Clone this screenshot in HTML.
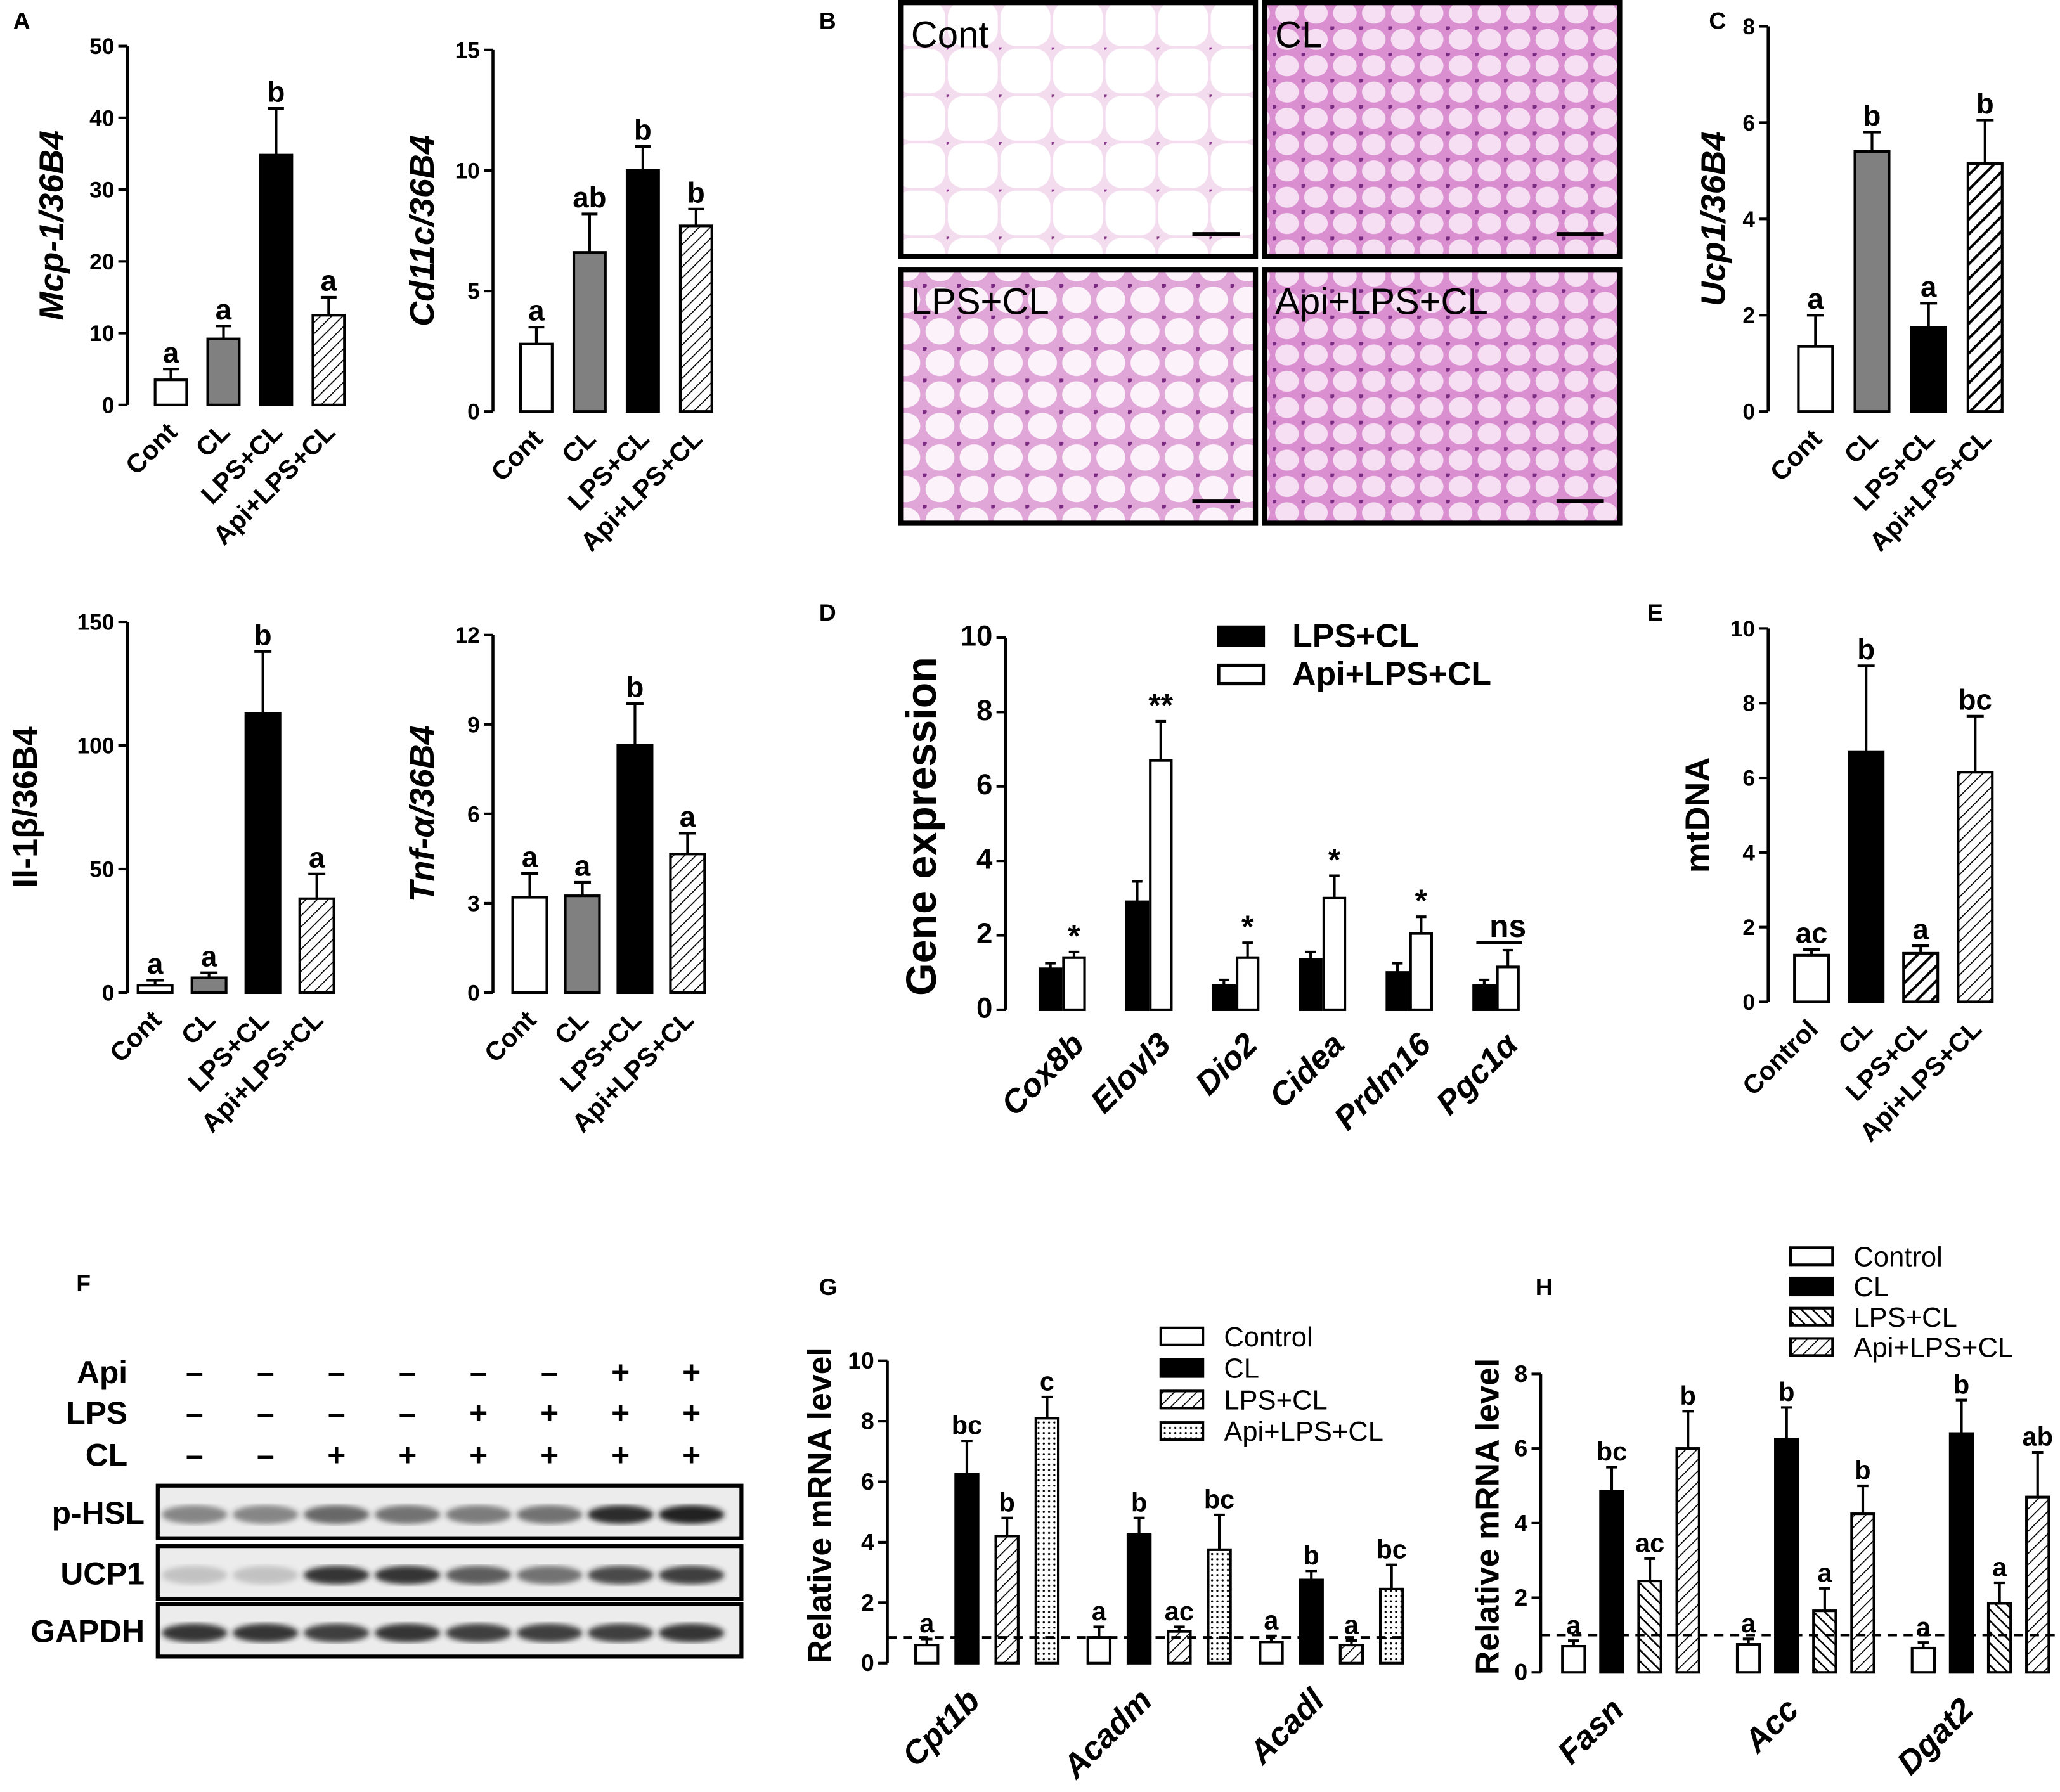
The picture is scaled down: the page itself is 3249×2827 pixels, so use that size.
<!DOCTYPE html>
<html><head><meta charset="utf-8"><style>
html,body{margin:0;padding:0;background:#fff}
svg{display:block;font-family:"Liberation Sans",sans-serif}
</style></head><body>
<svg id="fig" xmlns="http://www.w3.org/2000/svg" width="3249" height="2827" viewBox="0 0 1567 1363" preserveAspectRatio="none">
<defs>
<pattern id="hatch" patternUnits="userSpaceOnUse" width="6" height="6" patternTransform="rotate(45)"><rect width="6" height="6" fill="#fff"/><line x1="0" y1="0" x2="0" y2="6" stroke="#000" stroke-width="1.6"/></pattern>
<pattern id="hatchThick" patternUnits="userSpaceOnUse" width="8" height="8" patternTransform="rotate(45)"><rect width="8" height="8" fill="#fff"/><line x1="0" y1="0" x2="0" y2="8" stroke="#000" stroke-width="4"/></pattern>
<pattern id="hatchRev" patternUnits="userSpaceOnUse" width="6" height="6" patternTransform="rotate(-45)"><rect width="6" height="6" fill="#fff"/><line x1="0" y1="0" x2="0" y2="6" stroke="#000" stroke-width="2.5"/></pattern>
<pattern id="dots" patternUnits="userSpaceOnUse" width="4" height="4"><rect width="4" height="4" fill="#fff"/><circle cx="2" cy="2" r="0.8" fill="#000"/></pattern>
<pattern id="cellsW" patternUnits="userSpaceOnUse" width="40" height="36"><rect width="40" height="36" fill="#f4dcef"/><rect x="1" y="1" width="38" height="34" rx="12" fill="#fff"/><circle cx="0" cy="0" r="2" fill="#8a3a8a"/></pattern>
<pattern id="cellsP" patternUnits="userSpaceOnUse" width="22" height="20"><rect width="22" height="20" fill="#d98fd0"/><ellipse cx="11" cy="10" rx="9" ry="8" fill="#f6dff2"/><circle cx="1" cy="1" r="2" fill="#7a2a80"/></pattern>
<pattern id="cellsM" patternUnits="userSpaceOnUse" width="26" height="24"><rect width="26" height="24" fill="#e0a6d8"/><ellipse cx="13" cy="12" rx="11" ry="10" fill="#fcf2fa"/><circle cx="1" cy="1" r="2" fill="#7a2a80"/></pattern>
<filter id="blur"><feGaussianBlur stdDeviation="2"/></filter>
</defs>
</svg>
<script>
// ---- data ----
const groups4 = ["Cont","CL","LPS+CL","Api+LPS+CL"];
const groupsE = ["Control","CL","LPS+CL","Api+LPS+CL"];
const mcpVals = [3.5, 9.2, 34.8, 12.5];
const mcpErr = [1.5, 1.8, 6.5, 2.5];
const mcpLetters = ["a","a","b","a"];
const mcpTicks = [0,10,20,30,40,50];
const cd11Vals = [2.8, 6.6, 10.0, 7.7];
const cd11Err = [0.7, 1.6, 1.0, 0.7];
const cd11Letters = ["a","ab","b","b"];
const cd11Ticks = [0,5,10,15];
const ucpVals = [1.35, 5.4, 1.75, 5.15];
const ucpErr = [0.65, 0.4, 0.5, 0.9];
const ucpLetters = ["a","b","a","b"];
const ucpTicks = [0,2,4,6,8];
const il1Vals = [3, 6, 113, 38];
const il1Err = [2, 2, 25, 10];
const il1Letters = ["a","a","b","a"];
const il1Ticks = [0,50,100,150];
const tnfVals = [3.2, 3.25, 8.3, 4.65];
const tnfErr = [0.8, 0.45, 1.4, 0.7];
const tnfLetters = ["a","a","b","a"];
const tnfTicks = [0,3,6,9,12];
const genesD = ["Cox8b","Elovl3","Dio2","Cidea","Prdm16","Pgc1α"];
const dLps = [1.1, 2.9, 0.65, 1.35, 1.0, 0.65];
const dLpsErr = [0.15, 0.55, 0.15, 0.2, 0.25, 0.15];
const dApi = [1.4, 6.7, 1.4, 3.0, 2.05, 1.15];
const dApiErr = [0.15, 1.05, 0.4, 0.6, 0.45, 0.45];
const dMarks = ["*","**","*","*","*","ns"];
const dTicks = [0,2,4,6,8,10];
const mtVals = [1.25, 6.7, 1.3, 6.15];
const mtErr = [0.15, 2.3, 0.2, 1.5];
const mtLetters = ["ac","b","a","bc"];
const mtTicks = [0,2,4,6,8,10];
const genesG = ["Cpt1b","Acadm","Acadl"];
const gCtrl = [0.6, 0.85, 0.7], gCtrlErr=[0.2,0.35,0.2];
const gCL = [6.25, 4.25, 2.75], gCLErr=[1.1,0.55,0.3];
const gLPS = [4.2, 1.05, 0.6], gLPSErr=[0.6,0.15,0.15];
const gApi = [8.1, 3.75, 2.45], gApiErr=[0.7,1.15,0.8];
const gLetters = [["a","bc","b","c"],["a","b","ac","bc"],["a","b","a","bc"]];
const gTicks = [0,2,4,6,8,10];
const genesH = ["Fasn","Acc","Dgat2"];
const hCtrl = [0.7, 0.75, 0.65], hCtrlErr=[0.15,0.15,0.15];
const hCL = [4.85, 6.25, 6.4], hCLErr=[0.65,0.85,0.9];
const hLPS = [2.45, 1.65, 1.85], hLPSErr=[0.6,0.6,0.55];
const hApi = [6.0, 4.25, 4.7], hApiErr=[1.0,0.75,1.2];
const hLetters = [["a","bc","ac","b"],["a","b","a","b"],["a","b","a","ab"]];
const hTicks = [0,2,4,6,8];

const svg = document.getElementById('fig');
const NS = "http://www.w3.org/2000/svg";
function el(tag, attrs, parent){const e=document.createElementNS(NS,tag);for(const k in attrs)e.setAttribute(k,attrs[k]);(parent||svg).appendChild(e);return e;}
function txt(s, attrs, parent){const e=el('text',attrs,parent);e.textContent=s;return e;}

function axis(g, x, y0, y1, ticks, fs){
  const max=ticks[ticks.length-1];
  const ys=v=>y0-(v/max)*(y0-y1);
  const a=el('line',{x1:x,y1:y0,x2:x,y2:y1,stroke:'#000','stroke-width':2.2},g);
  
  
  ticks.forEach(t=>{
    el('line',{x1:x-7,y1:ys(t),x2:x,y2:ys(t),stroke:'#000','stroke-width':2},g);
    const l=txt(String(t),{x:x-10,y:ys(t)+6,'text-anchor':'end','font-size':fs||17,'font-weight':'bold'},g);
    
    
  });
  return ys;
}
function bar(g, cx, w, ys, v, e, fill, y0){
  const r=el('rect',{x:cx-w/2,y:ys(v),width:w,height:y0-ys(v),fill:fill,stroke:'#000','stroke-width':2},g);
  
  
  const top=ys(v+e);
  el('line',{x1:cx,y1:ys(v),x2:cx,y2:top,stroke:'#000','stroke-width':2},g);
  el('line',{x1:cx-w*0.25,y1:top,x2:cx+w*0.25,y2:top,stroke:'#000','stroke-width':2},g);
  return top;
}
function ytitle(g, s, x, y, fs, italic){
  const t=txt(s,{x:x,y:y,transform:`rotate(-90 ${x} ${y})`,'text-anchor':'middle','font-size':fs,'font-weight':'bold','font-style':italic?'italic':'normal'},g);
  
  
}
function catLabel(g, s, cx, y, fs, italic){
  const t=txt(s,{x:cx+6,y:y,transform:`rotate(-45 ${cx+6} ${y})`,'text-anchor':'end','font-size':fs,'font-weight':'bold','font-style':italic?'italic':'normal'},g);
  
  
}
function panelLetter(s,x,y){const t=txt(s,{x:x,y:y,'font-size':18,'font-weight':'bold'});}

const fills4 = ['#fff','#808080','#000','url(#hatch)'];
function simple(name, x, y0, y1, ticks, vals, errs, letters, x0, step, w, fills, title, tx, italic, cats){
  const g=el('g',{});
  
  
  const ys=axis(g,x,y0,y1,ticks);
  vals.forEach((v,i)=>{
    const cx=x0+i*step;
    const top=bar(g,cx,w,ys,v,errs[i],fills[i],y0);
    const l=txt(letters[i],{x:cx,y:top-5,'text-anchor':'middle','font-size':22,'font-weight':'bold'},g);
    
    
    catLabel(g,cats[i],cx,y0+22,20,false);
  });
  ytitle(g,title,tx,(y0+y1)/2,26,italic);
}
panelLetter('A',10,22);panelLetter('B',623,22);panelLetter('C',1300,22);
panelLetter('D',623,472);panelLetter('E',1253,472);panelLetter('F',58,982);panelLetter('G',623,985);panelLetter('H',1168,985);

simple('chart-mcp1',97,308,35,mcpTicks,mcpVals,mcpErr,mcpLetters,130,40,24,fills4,'Mcp-1/36B4',48,true,groups4);
simple('chart-cd11c',375,313,38,cd11Ticks,cd11Vals,cd11Err,cd11Letters,408,40.5,24,fills4,'Cd11c/36B4',330,true,groups4);
simple('chart-ucp1',1345,313,20,ucpTicks,ucpVals,ucpErr,ucpLetters,1381,43,26,['#fff','#808080','#000','url(#hatchThick)'],'Ucp1/36B4',1312,true,groups4);
simple('chart-il1b',97,755,473,il1Ticks,il1Vals,il1Err,il1Letters,118,41,26,fills4,'Il-1β/36B4',28,false,groups4);
simple('chart-tnfa',375,755,483,tnfTicks,tnfVals,tnfErr,tnfLetters,403,40,26,fills4,'Tnf-α/36B4',330,true,groups4);
simple('chart-mtdna',1345,762,478,mtTicks,mtVals,mtErr,mtLetters,1378,41.5,26,['#fff','#000','url(#hatchThick)','url(#hatch)'],'mtDNA',1300,false,groupsE);

// Panel D
(function(){
  const g=el('g',{});
  const y0=768,y1=485,ys=axis(g,765,y0,y1,dTicks,22);
  genesD.forEach((name,i)=>{
    const cx=808+i*66;
    const t1=bar(g,cx-9,16,ys,dLps[i],dLpsErr[i],'#000',y0);
    const t2=bar(g,cx+9,16,ys,dApi[i],dApiErr[i],'#fff',y0);
    const m=txt(dMarks[i],{x:cx+9,y:Math.min(t1,t2)-(dMarks[i]=='ns'?10:4),'text-anchor':'middle','font-size':24,'font-weight':'bold'},g);
    
    if(dMarks[i]=='ns') el('line',{x1:cx-15,y1:Math.min(t1,t2)-6,x2:cx+20,y2:Math.min(t1,t2)-6,stroke:'#000','stroke-width':2.5},g);
    catLabel(g,name,cx+12,y0+28,25,true);
  });
  ytitle(g,'Gene expression',712,(y0+y1)/2+2,32,false);
  [['LPS+CL','#000'],['Api+LPS+CL','#fff']].forEach((l,i)=>{
    el('rect',{x:927,y:477+i*29,width:34,height:14,fill:l[1],stroke:'#000','stroke-width':2.5},g);
    const t=txt(l[0],{x:983,y:492+i*29,'font-size':25,'font-weight':'bold'},g);
    
  });
})();

// Grouped G/H
function grouped(name,x,y0,y1,ticks,genes,series,errs,letters,gx0,gstep,sstep,w,fills,dash,title,tx){
  const g=el('g',{});
  const ys=axis(g,x,y0,y1,ticks,18);
  genes.forEach((gn,gi)=>{
    series.forEach((s,si)=>{
      const cx=gx0+gi*gstep+si*sstep;
      const top=bar(g,cx,w,ys,s[gi],errs[si][gi],fills[si],y0);
      const l=txt(letters[gi][si],{x:cx,y:top-5,'text-anchor':'middle','font-size':20,'font-weight':'bold'},g);
      
    });
    catLabel(g,gn,gx0+gi*gstep+sstep*1.5-10,y0+30,25,true);
  });
  const d=el('line',{x1:x,y1:ys(dash),x2:x+395,y2:ys(dash),stroke:'#000','stroke-width':2,'stroke-dasharray':'7,5'},g);
  
  ytitle(g,title,tx,(y0+y1)/2-5,25,false);
  return g;
}
const gG=grouped('chart-g',675,1265,1035,gTicks,genesG,[gCtrl,gCL,gLPS,gApi],[gCtrlErr,gCLErr,gLPSErr,gApiErr],gLetters,705,131,30.5,17,['#fff','#000','url(#hatch)','url(#dots)'],0.85,'Relative mRNA level',632);
const gH=grouped('chart-h',1172,1272,1045,hTicks,genesH,[hCtrl,hCL,hLPS,hApi],[hCtrlErr,hCLErr,hLPSErr,hApiErr],hLetters,1197,133,29,17,['#fff','#000','url(#hatchRev)','url(#hatch)'],1.0,'Relative mRNA level',1140);
function legend(g,x,y,dy,fills,labels){
  labels.forEach((s,i)=>{
    el('rect',{x:x,y:y+i*dy,width:32,height:13,fill:fills[i],stroke:'#000','stroke-width':2},g);
    const t=txt(s,{x:x+48,y:y+i*dy+14,'font-size':21},g);
    
  });
}
legend(gG,883,1010,24,['#fff','#000','url(#hatch)','url(#dots)'],groupsE);
legend(gH,1362,949,23,['#fff','#000','url(#hatchRev)','url(#hatch)'],groupsE);

// Panel B histology
(function(){
  const imgs=[[685,2,'cellsW','Cont'],[962,2,'cellsP','CL'],[685,205,'cellsM','LPS+CL'],[962,205,'cellsP','Api+LPS+CL']];
  imgs.forEach(m=>{
    const g=el('g',{});
    el('rect',{x:m[0],y:m[1],width:270,height:193,fill:`url(#${m[2]})`,stroke:'#000','stroke-width':4},g);
    txt(m[3],{x:m[0]+8,y:m[1]+34,'font-size':28,fill:'#000'},g);
    el('line',{x1:m[0]+222,y1:m[1]+176,x2:m[0]+258,y2:m[1]+176,stroke:'#000','stroke-width':3},g);
  });
})();

// Panel F western blot
(function(){
  const g=el('g',{});
  const x0=148, st=54;
  const rows=[['Api',1043,[0,0,0,0,0,0,1,1]],['LPS',1074,[0,0,0,0,1,1,1,1]],['CL',1106,[0,0,1,1,1,1,1,1]]];
  rows.forEach(r=>{
    txt(r[0],{x:97,y:r[1]+9,'text-anchor':'end','font-size':24,'font-weight':'bold'},g);
    r[2].forEach((p,i)=>txt(p?'+':'–',{x:x0+i*st,y:r[1]+9,'text-anchor':'middle','font-size':24,'font-weight':'bold'},g));
  });
  const bands=[['p-HSL',1130,[0.5,0.5,0.65,0.6,0.55,0.6,0.95,1]],['UCP1',1176,[0.2,0.2,0.9,0.9,0.7,0.6,0.8,0.85]],['GAPDH',1220,[0.9,0.9,0.85,0.9,0.85,0.85,0.85,0.9]]];
  bands.forEach(b=>{
    el('rect',{x:120,y:b[1],width:444,height:40,fill:'#ececec',stroke:'#000','stroke-width':3},g);
    txt(b[0],{x:110,y:b[1]+29,'text-anchor':'end','font-size':24,'font-weight':'bold'},g);
    b[2].forEach((a,i)=>el('ellipse',{cx:x0+i*st,cy:b[1]+22,rx:25,ry:7,fill:'#222',opacity:a,filter:'url(#blur)'},g));
  });
})();
</script>
</body></html>
